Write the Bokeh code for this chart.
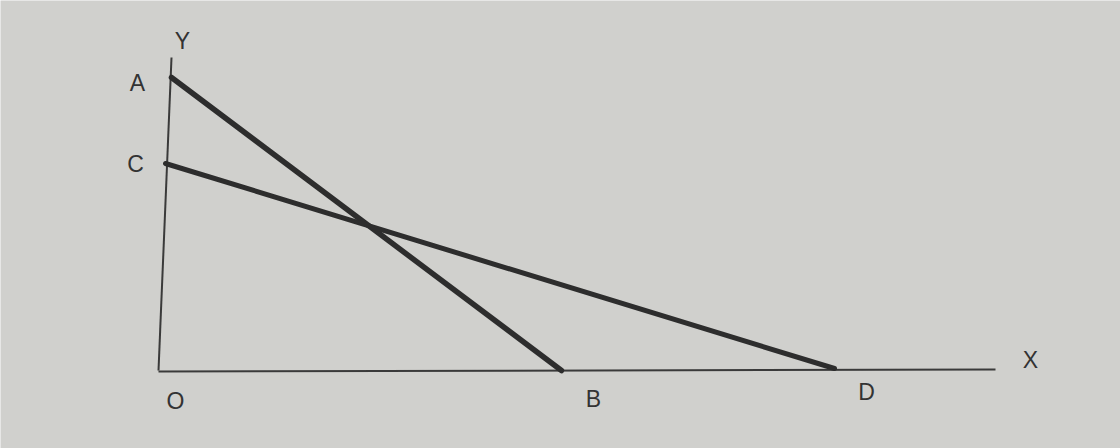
from bokeh.plotting import figure
from bokeh.models import Range1d, ColumnDataSource
from bokeh.embed import file_html
from bokeh.resources import INLINE
from bokeh.core.properties import value

# Diagram values (abstract units, origin O at (0,0))
point_names = ["A", "C", "B", "D"]
A = (0.22, 5.86)
C = (0.10, 4.14)
B = (8.02, 0.0)
D = (13.48, 0.04)
x_axis_end = 16.7
y_axis_top = (0.22, 6.26)

label_text = ["Y", "A", "C", "O", "B", "D", "X"]
label_x = [0.44, -0.46, -0.5, 0.3, 8.66, 14.12, 17.4]
label_y = [6.6, 5.76, 4.14, -0.6, -0.56, -0.42, 0.22]

UNIT = 50.0
W, H = 1120, 448
x0 = -160 / UNIT
y_top = 370 / UNIT

p = figure(width=W, height=H, output_backend="svg", toolbar_location=None,
           x_range=Range1d(x0, x0 + W / UNIT), y_range=Range1d(y_top - H / UNIT, y_top),
           min_border=0)
p.axis.visible = False
p.grid.visible = False
p.outline_line_color = None
p.background_fill_color = "#d0d0cd"
p.border_fill_color = "#d0d0cd"

axis_col = "#3a3a3a"
line_col = "#2d2d2d"

# axes
p.line([-0.04, y_axis_top[0]], [0, y_axis_top[1]], line_color=axis_col, line_width=2)
p.line([-0.04, x_axis_end], [-0.02, 0.02], line_color=axis_col, line_width=2)

# the two lines
p.line([A[0], B[0]], [A[1], B[1]], line_color=line_col, line_width=5.5, line_cap="round")
p.line([C[0], D[0]], [C[1], D[1]], line_color=line_col, line_width=5, line_cap="round")

src = ColumnDataSource(dict(x=label_x, y=label_y, t=label_text))
p.text(x="x", y="y", text="t", source=src, text_font=value("Liberation Sans"),
       text_font_size="23px", text_color="#333333", text_align="center",
       text_baseline="middle")

html = file_html(p, INLINE)
html = html.replace("<body>", '<body style="margin:0;background:#d0d0cd">', 1)
open("out.html", "w").write(html)
